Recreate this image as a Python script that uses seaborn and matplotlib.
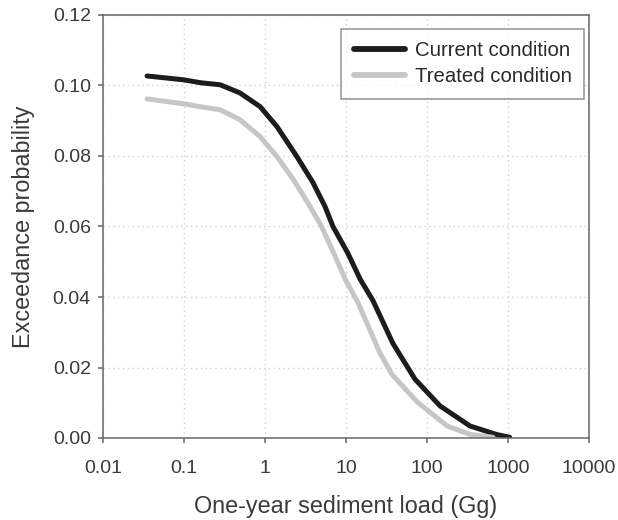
import numpy as np
import pandas as pd
import matplotlib
matplotlib.use("Agg")
import matplotlib.pyplot as plt
import seaborn as sns

# Values
current_load = [0.035, 0.1, 0.158, 0.28, 0.49, 0.87, 1.41, 2.48, 3.9, 5.5, 6.9, 10.5, 15, 21.5, 38, 71, 145, 340, 720, 1050]
current_prob = [0.1027, 0.1016, 0.1008, 0.1002, 0.0979, 0.0940, 0.0883, 0.0798, 0.0725, 0.0657, 0.0600, 0.0525, 0.0450, 0.0390, 0.0268, 0.0167, 0.0091, 0.0034, 0.0010, 0.0002]

treated_load = [0.035, 0.1, 0.158, 0.28, 0.49, 0.87, 1.41, 2.24, 3.6, 5.0, 7.2, 9.8, 14, 26, 37, 76, 178, 340, 650]
treated_prob = [0.0962, 0.0948, 0.0940, 0.0931, 0.0903, 0.0855, 0.0798, 0.0733, 0.0657, 0.0600, 0.0520, 0.0450, 0.0385, 0.0243, 0.0180, 0.0102, 0.0034, 0.0010, 0.0002]

conditions = ["Current condition", "Treated condition"]
colors = ["#1c1c1c", "#c6c6c6"]

x_ticks = [0.01, 0.1, 1, 10, 100, 1000, 10000]
x_tick_labels = ["0.01", "0.1", "1", "10", "100", "1000", "10000"]
y_ticks = [0.00, 0.02, 0.04, 0.06, 0.08, 0.10, 0.12]


def build_frame():
    cur = pd.DataFrame({"load": current_load, "prob": current_prob, "cond": conditions[0]})
    trt = pd.DataFrame({"load": treated_load, "prob": treated_prob, "cond": conditions[1]})
    return pd.concat([cur, trt], ignore_index=True)


def main():
    sns.set_style("white")
    plt.rcParams["font.family"] = ["Liberation Sans", "DejaVu Sans"]
    df = build_frame()

    fig = plt.figure(figsize=(6.18, 5.2), dpi=100)
    # axes box: x 103..589 px, y 15..438 px
    ax = fig.add_axes([103 / 618, 1 - 438 / 520, 486 / 618, 423 / 520])

    sns.lineplot(data=df, x="load", y="prob", hue="cond", hue_order=conditions,
                 palette=colors, linewidth=3.6, estimator=None, sort=False, ax=ax)
    for ln in ax.get_lines():
        ln.set_solid_joinstyle("round")
        ln.set_solid_capstyle("round")

    ax.set_xscale("log")
    ax.set_xlim(0.01, 10000)
    ax.set_ylim(0, 0.12)
    ax.set_xticks(x_ticks)
    ax.set_xticklabels(x_tick_labels)
    ax.set_yticks(y_ticks)
    ax.set_yticklabels([f"{v:.2f}" for v in y_ticks])
    ax.minorticks_off()

    ax.grid(True, which="major", color="#d0d0d0", linestyle=(0, (1, 2.5)), linewidth=1.0)
    for s in ax.spines.values():
        s.set_color("#666666")
        s.set_linewidth(1.1)
    ax.tick_params(axis="both", direction="out", length=3.8, width=1.1, color="#666666",
                   labelsize=14, labelcolor="#3a3a3a", bottom=True, left=True)
    ax.tick_params(axis="x", pad=12)
    ax.tick_params(axis="y", pad=5)

    ax.set_xlabel("One-year sediment load (Gg)", fontsize=16.8, color="#3a3a3a", labelpad=13)
    ax.set_ylabel("Exceedance probability", fontsize=16.8, color="#3a3a3a", labelpad=13)

    leg = ax.legend(loc="upper right", fontsize=14.7, frameon=True, fancybox=False,
                    edgecolor="#777777", handlelength=2.5, handletextpad=0.5,
                    borderpad=0.6, borderaxespad=0, labelspacing=0.35,
                    bbox_to_anchor=(0.99, 0.967))
    leg.get_frame().set_linewidth(1.1)
    for t in leg.get_texts():
        t.set_color("#2a2a2a")
    for h in leg.get_lines():
        h.set_linewidth(4.2)

    fig.savefig("out.png", dpi=100)


if __name__ == "__main__":
    main()
